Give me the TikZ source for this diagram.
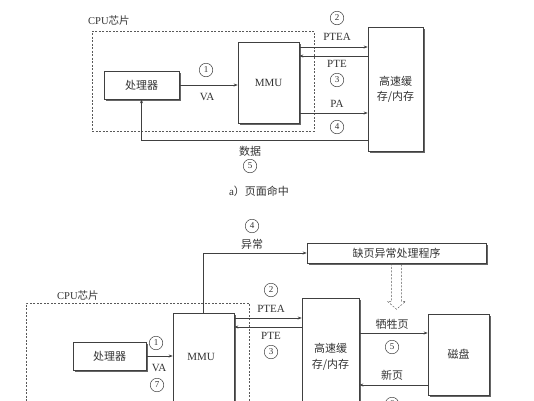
\documentclass[tikz,border=0pt]{standalone}
\usepackage{fontspec}
\setmainfont{Liberation Serif}
\newfontfamily\cjk{Noto Sans CJK SC}
\usetikzlibrary{arrows.meta,shadows}
\begin{document}
\begin{tikzpicture}[x=1pt,y=-1pt,
  every node/.style={font=\fontsize{11}{15}\selectfont, text=black!80},
  box/.style={draw=black!75, line width=0.6pt, fill=white, inner sep=0pt, align=center,
    drop shadow={shadow xshift=1.6pt, shadow yshift=-1.6pt, fill=black!60, opacity=1}},
  cpubox/.style={draw=black!65, line width=0.5pt, dash pattern=on 2pt off 1.5pt, inner sep=0pt},
  num/.style={circle, draw=black!75, line width=0.5pt, minimum size=13.5pt, inner sep=0pt, font=\fontsize{9}{9}\selectfont},
  lab/.style={inner sep=1pt},
  arr/.style={draw=black!75, line width=0.6pt, -{Stealth[length=4pt,width=3pt]}},
  ln/.style={draw=black!75, line width=0.6pt}
]
\useasboundingbox (0,0) rectangle (534,400);
\clip (0,0) rectangle (534,400);

% ---------------- a) page hit ----------------
\node[cpubox, minimum width=222pt, minimum height=100pt] (cpuA) at (203,81) {};
\node[lab, anchor=west, font=\fontsize{10.5}{12}\selectfont] (cpuAlab) at (87,21) {CPU{\cjk 芯片}};
\node[box, minimum width=75pt, minimum height=28pt] (procA) at (141.5,85) {\cjk 处理器};
\node[box, minimum width=61pt, minimum height=81pt] (mmuA) at (268.5,82.5) {MMU};
\node[box, minimum width=55pt, minimum height=124pt] (memA) at (395.5,89) {\cjk 高速缓\\\cjk 存/内存};

\draw[arr] (procA.east) -- (mmuA.west |- procA.east);
\node[num] (a1) at (206,70) {1};
\node[lab] (aVA) at (207,97) {VA};

\draw[arr] (mmuA.east |- 0,47) -- (memA.west |- 0,47);
\node[num] (a2) at (337,18) {2};
\node[lab] (aPTEA) at (337,37) {PTEA};

\draw[arr] (memA.west |- 0,56) -- (mmuA.east |- 0,56);
\node[lab] (aPTE) at (337,64) {PTE};
\node[num] (a3) at (337,80) {3};

\draw[arr] (mmuA.east |- 0,113) -- (memA.west |- 0,113);
\node[lab] (aPA) at (337,104) {PA};
\node[num] (a4) at (337,127) {4};

\draw[arr] (memA.west |- 0,140) -| (procA.south);
\node[lab] (adata) at (250,151) {\cjk 数据};
\node[num] (a5) at (250,166) {5};

\node[lab] (capA) at (259,191) {a{\cjk ）页面命中}};

% ---------------- b) page fault ----------------
\node[cpubox, minimum width=223pt, minimum height=130pt] (cpuB) at (137.5,368) {};
\node[lab, anchor=west, font=\fontsize{10.5}{12}\selectfont] (cpuBlab) at (56,296) {CPU{\cjk 芯片}};
\node[box, minimum width=73pt, minimum height=28pt] (procB) at (109.5,356) {\cjk 处理器};
\node[box, minimum width=61pt, minimum height=130pt] (mmuB) at (203.5,378) {};
\node[lab] (mmuBt) at (201,357) {MMU};
\node[box, minimum width=57pt, minimum height=140pt] (memB) at (330.5,368) {};
\node[lab, align=center, font=\fontsize{11}{16}\selectfont\cjk] (memBt) at (330.5,357) {高速缓\\存/内存};
\node[box, minimum width=61pt, minimum height=81pt] (disk) at (458.5,354.5) {\cjk 磁盘};
\node[box, minimum width=179pt, minimum height=20pt] (handler) at (396.5,253) {\cjk 缺页异常处理程序};

\draw[arr] (mmuB.north) |- (handler.west);
\node[num] (b4) at (252,226) {4};
\node[lab] (bexc) at (252,244) {\cjk 异常};

% hollow dashed arrow
\coordinate (hs) at (handler.south);
\draw[draw=black!65, line width=0.5pt, dash pattern=on 2pt off 1.5pt]
  ([xshift=-5pt]hs) -- ++(0,38) -- ++(-4,0) -- ([yshift=-46pt]hs) -- ([xshift=9pt,yshift=-38pt]hs) -- ++(-4,0) -- ([xshift=5pt]hs);

\draw[arr] (procB.east) -- (mmuB.west |- procB.east);
\node[num] (b1) at (156,343) {1};
\node[lab] (bVA) at (159,368) {VA};
\node[num] (b7) at (157,385) {7};

\draw[arr] (mmuB.east |- 0,318) -- (memB.west |- 0,318);
\node[num] (b2) at (271,290) {2};
\node[lab] (bPTEA) at (271,309) {PTEA};

\draw[arr] (memB.west |- 0,327) -- (mmuB.east |- 0,327);
\node[lab] (bPTE) at (271,336) {PTE};
\node[num] (b3) at (271,352) {3};

\draw[arr] (memB.east |- 0,333) -- (disk.west |- 0,333);
\node[lab] (bvictim) at (392,324) {\cjk 牺牲页};
\node[num] (b5) at (392,347) {5};

\draw[arr] (disk.west |- 0,385) -- (memB.east |- 0,385);
\node[lab] (bnew) at (392,375) {\cjk 新页};
\node[num] (b6) at (392,404) {6};
\end{tikzpicture}
\end{document}
